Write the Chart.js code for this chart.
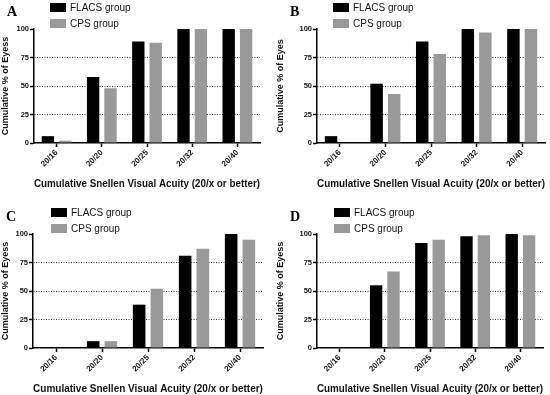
<!DOCTYPE html>
<html>
<head>
<meta charset="utf-8">
<script src="https://cdn.jsdelivr.net/npm/chart.js@4/dist/chart.umd.min.js"></script>
<style>
  body { margin: 0; background: #fff; width: 550px; height: 395px; overflow: hidden; position: relative; font-family: "Liberation Sans", Arial, sans-serif; }
  .panel { position: absolute; width: 275px; height: 190px; }
  .panel canvas { position: absolute; left: 0; top: 0; }
  .letter { position: absolute; font-family: "Liberation Serif", "Times New Roman", serif; font-weight: bold; font-size: 14px; }
  .leg { position: absolute; font-size: 10px; color: #111; line-height: 10px; }
  .leg div { height: 16px; white-space: nowrap; }
  .leg span { display: inline-block; width: 16px; height: 9px; vertical-align: top; margin-right: 4px; }
</style>
</head>
<body>
<script>
const categories = ['20/16', '20/20', '20/25', '20/32', '20/40'];
const seriesNames = ['FLACS group', 'CPS group'];

const flacsA = [6, 58, 89, 100, 100];
const cpsA   = [2, 48, 88, 100, 100];
const flacsB = [6, 52, 89, 100, 100];
const cpsB   = [0, 43, 78, 97, 100];
const flacsC = [0, 6, 38, 81, 100];
const cpsC   = [0, 6, 52, 87, 95];
const flacsD = [0, 55, 92, 98, 100];
const cpsD   = [0, 67, 95, 99, 99];

const yTicks = [0, 25, 50, 75, 100];
const xTitle = 'Cumulative Snellen Visual Acuity (20/x or better)';

const panels = [
  { id: 'A', left: 0,   top: 0,   flacs: flacsA, cps: cpsA, yTitle: 'Cumulative % of Eyess', axisX: 34, axisEnd: 260, legX: 50 },
  { id: 'B', left: 275, top: 0,   flacs: flacsB, cps: cpsB, yTitle: 'Cumulative % of Eyes',  axisX: 42, axisEnd: 270, legX: 58 },
  { id: 'C', left: 0,   top: 205, flacs: flacsC, cps: cpsC, yTitle: 'Cumulative % of Eyess', axisX: 33, axisEnd: 263, legX: 51 },
  { id: 'D', left: 275, top: 205, flacs: flacsD, cps: cpsD, yTitle: 'Cumulative % of Eyess', axisX: 42, axisEnd: 268, legX: 59 }
];

const font = "'Liberation Sans', Arial, sans-serif";
const W = 275, H = 190, plotTop = 29, plotBottom = 143;

panels.forEach(p => {
  const div = document.createElement('div');
  div.className = 'panel';
  div.style.left = p.left + 'px';
  div.style.top = p.top + 'px';
  div.innerHTML =
    '<canvas width="' + W + '" height="' + H + '"></canvas>' +
    '<div class="letter" style="left:' + (p.axisX - 27) + 'px;top:4px">' + p.id + '</div>' +
    '<div class="leg" style="left:' + p.legX + 'px;top:3px">' +
      '<div><span style="background:#000"></span>' + seriesNames[0] + '</div>' +
      '<div><span style="background:#999"></span>' + seriesNames[1] + '</div>' +
    '</div>';
  document.body.appendChild(div);

  new Chart(div.querySelector('canvas'), {
    type: 'bar',
    data: {
      labels: categories,
      datasets: [
        { label: seriesNames[0], data: p.flacs, backgroundColor: '#000000' },
        { label: seriesNames[1], data: p.cps, backgroundColor: '#999999' }
      ]
    },
    options: {
      responsive: false,
      animation: false,
      devicePixelRatio: 1,
      barPercentage: 0.71,
      categoryPercentage: 0.77,
      layout: { padding: { top: plotTop, right: W - p.axisEnd, left: 0, bottom: 0 } },
      plugins: { legend: { display: false }, tooltip: { enabled: false } },
      scales: {
        x: {
          grid: { display: true, drawOnChartArea: false, offset: false, tickLength: 4, tickColor: '#000', tickWidth: 1.5 },
          border: { color: '#000', width: 1.5 },
          ticks: { color: '#111', font: { family: font, size: 8, weight: 'bold' }, minRotation: 45, maxRotation: 45, padding: 1 },
          title: { display: true, text: xTitle, color: '#111', font: { family: font, size: 10, weight: 'bold' }, padding: { top: 3, bottom: 0 } },
          afterFit: s => { s.height = H - plotBottom; }
        },
        y: {
          min: 0, max: 100,
          afterBuildTicks: s => { s.ticks = yTicks.map(v => ({ value: v })); },
          grid: {
            color: c => (c.tick && c.tick.value > 0 && c.tick.value < 100) ? '#333' : 'rgba(0,0,0,0)',
            lineWidth: 1, tickLength: 4, tickColor: '#000', tickWidth: 1.5, tickBorderDash: []
          },
          border: { color: '#000', width: 1.5, dash: [1, 1.5] },
          ticks: { color: '#111', font: { family: font, size: 7.5, weight: 'bold' }, padding: 1 },
          title: { display: true, text: p.yTitle, color: '#111', font: { family: font, size: 9, weight: 'bold' }, padding: { top: 0, bottom: 3 } },
          afterFit: s => { s.width = p.axisX; }
        }
      }
    }
  });
});
</script>
</body>
</html>
